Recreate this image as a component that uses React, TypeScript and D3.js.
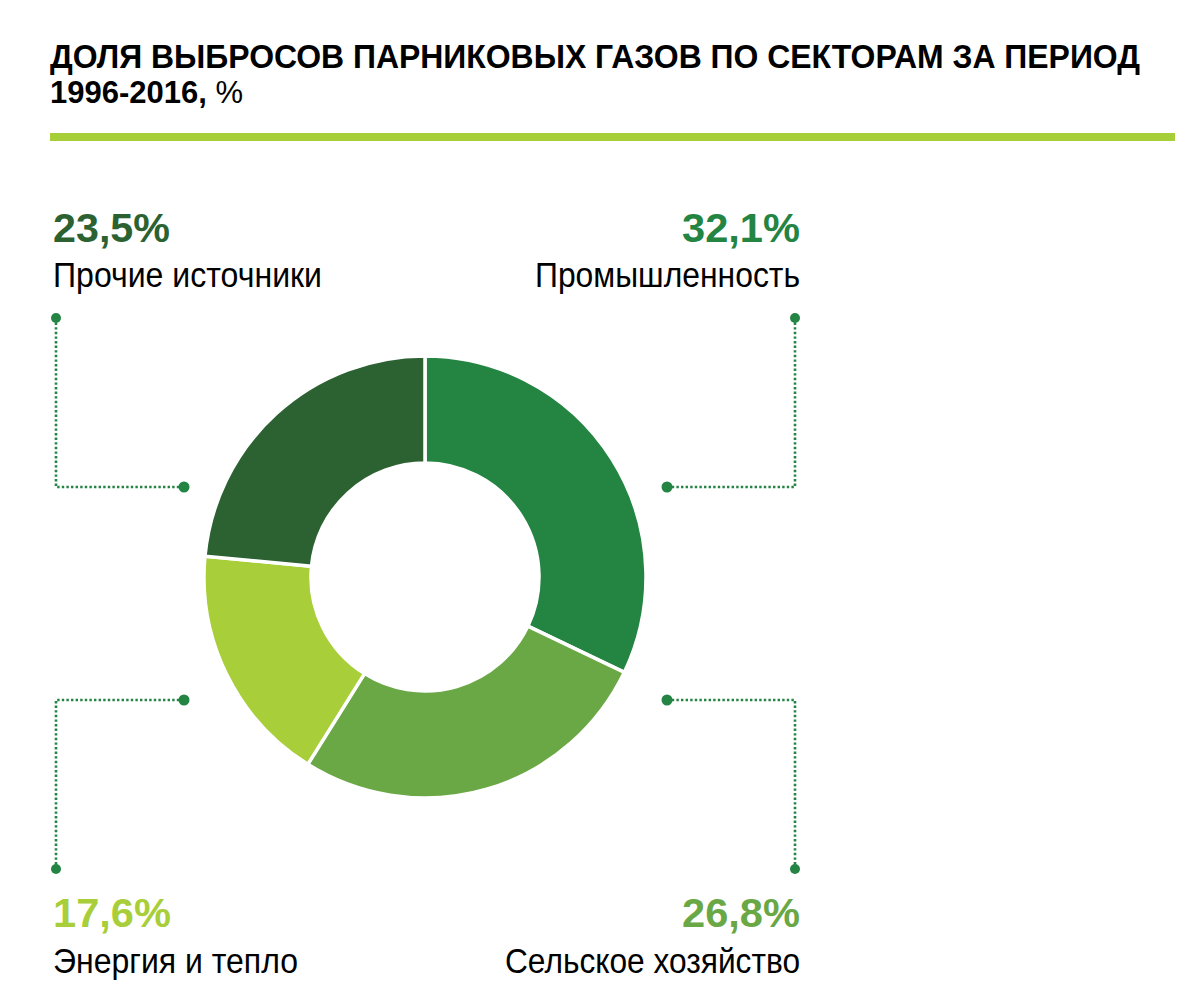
import React from "react";
import * as d3 from "d3";

// data
const categories = ["Промышленность", "Сельское хозяйство", "Энергия и тепло", "Прочие источники"];
const values = [32.1, 26.8, 17.6, 23.5];
const sliceColors = ["#248442", "#6aa745", "#a8ce3a", "#2c6231"];
const valueLabels = ["32,1%", "26,8%", "17,6%", "23,5%"];

const titleLine1 = "ДОЛЯ ВЫБРОСОВ ПАРНИКОВЫХ ГАЗОВ ПО СЕКТОРАМ ЗА ПЕРИОД";
const titleLine2 = "1996-2016,";

const W = 1200;
const H = 1008;
const cx = 425;
const cy = 577;
const outerR = 221;
const innerR = 114;
const lineColor = "#238443";
const font = "'Liberation Sans', Arial, sans-serif";

// label layout per slice: anchor side, text baselines, connector path (start dot -> corner -> end dot)
const layout = [
  { x: 800, anchor: "end", pctY: 242, nameY: 287, pctW: 118, nameW: 265, path: [[795, 318], [795, 487], [667, 487]] },
  { x: 800, anchor: "end", pctY: 927, nameY: 973, pctW: 118, nameW: 295, path: [[795, 869], [795, 700], [667, 700]] },
  { x: 53, anchor: "start", pctY: 927, nameY: 973, pctW: 118, nameW: 245, path: [[56, 869], [56, 700], [184, 700]] },
  { x: 53, anchor: "start", pctY: 242, nameY: 287, pctW: 117, nameW: 269, path: [[56, 318], [56, 487], [184, 487]] },
];

export default function App() {
  const pie = d3
    .pie<number>()
    .sort(null)
    .value((d) => d);
  const arcs = pie(values);
  const arc = d3.arc<d3.PieArcDatum<number>>().innerRadius(innerR).outerRadius(outerR);
  const line = d3.line();

  return (
    <svg width={W} height={H} style={{ position: "absolute", left: 0, top: 0, background: "#fff" }}>
      <text x={50} y={68} fontFamily={font} fontWeight="bold" fontSize={33} fill="#000" textLength={1090} lengthAdjust="spacingAndGlyphs">
        {titleLine1}
      </text>
      <text x={50} y={103} fontFamily={font} fontSize={31} fill="#000">
        <tspan fontWeight="bold">{titleLine2}</tspan>
        <tspan> %</tspan>
      </text>
      <rect x={50} y={133} width={1125} height={8} fill="#a6ce39" />

      <g transform={`translate(${cx},${cy})`}>
        {arcs.map((a, i) => (
          <path key={i} d={arc(a) || ""} fill={sliceColors[i]} stroke="#fff" strokeWidth={3.5} />
        ))}
      </g>

      {layout.map((l, i) => (
        <g key={i}>
          <path
            d={line(l.path as [number, number][]) || ""}
            fill="none"
            stroke={lineColor}
            strokeWidth={2.6}
            strokeDasharray="2.4 2.2"
          />
          <circle cx={l.path[0][0]} cy={l.path[0][1]} r={5} fill={lineColor} />
          <circle cx={l.path[2][0]} cy={l.path[2][1]} r={5.5} fill={lineColor} />
          <text
            x={l.x}
            y={l.pctY}
            textAnchor={l.anchor}
            fontFamily={font}
            fontWeight="bold"
            fontSize={40}
            fill={sliceColors[i]}
            textLength={l.pctW}
            lengthAdjust="spacingAndGlyphs"
          >
            {valueLabels[i]}
          </text>
          <text
            x={l.x}
            y={l.nameY}
            textAnchor={l.anchor}
            fontFamily={font}
            fontSize={35}
            fill="#000"
            textLength={l.nameW}
            lengthAdjust="spacingAndGlyphs"
          >
            {categories[i]}
          </text>
        </g>
      ))}
    </svg>
  );
}
